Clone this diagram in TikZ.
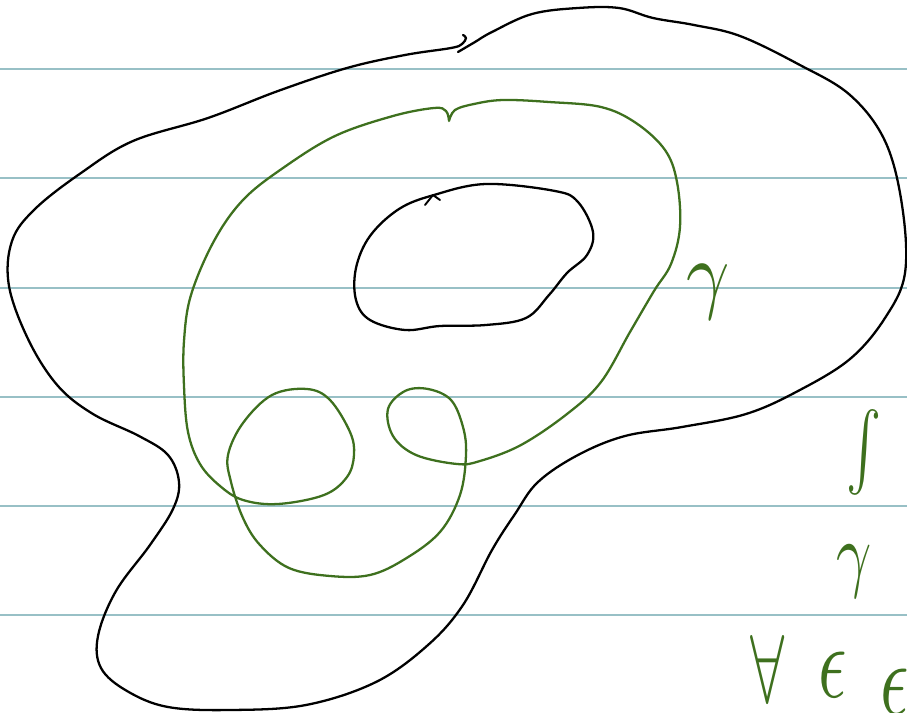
\documentclass[tikz,border=0pt]{standalone}
\usepackage{amsmath,amssymb}
\usepackage{graphicx}
\usepackage{tikz}
\definecolor{ruleblue}{RGB}{152,192,198}
\definecolor{inkgreen}{RGB}{62,112,30}

\begin{document}
\begin{tikzpicture}[x=0.02cm,y=-0.02cm,line cap=round,line join=round]
    \useasboundingbox (0,0) rectangle (907,713);
    \foreach \y in {69,178,288,397,506,615}
      \draw[ruleblue,line width=1.6pt] (0,\y) -- (907,\y);
    % outer region
    \draw[black,line width=1.3pt] plot[smooth,tension=0.6] coordinates {
      (458,52) (475,42) (492,32) (532,14) (578,8) (619,8) (653,18) (694,25)
      (740,36) (798,64) (850,95) (885,141) (902,205) (905,273) (885,318)
      (850,359) (798,391) (746,414) (682,427) (625,436) (578,455) (538,482)
      (515,514) (492,550) (463,605) (428,645) (376,682) (306,705) (231,710)
      (168,707) (127,691) (101,668) (98,636) (116,591) (150,545) (173,509)
      (179,482) (168,455) (139,436) (93,414) (58,386) (29,341) (9,286)
      (12,241) (35,209) (81,173) (133,141) (208,118) (278,91) (347,68)
      (405,55) (451,48) (462,44) (466,38) (463,35)};
    % hole
    \draw[black,line width=1.3pt] plot[smooth cycle,tension=0.6] coordinates {
      (434,195) (486,184) (555,191) (578,202) (593,232) (587,255) (567,273)
      (549,295) (526,318) (486,325) (440,326) (405,330) (370,320) (356,300)
      (356,268) (370,236) (399,209)};
    \draw[black,line width=1.1pt] (425,205) -- (433,195) -- (440,200);
    % the curve gamma
    \draw[inkgreen,line width=1.3pt] plot[smooth,tension=0.6] coordinates {
      (449,121) (455,110) (474,104) (503,100) (549,102) (601,107) (636,123)
      (665,150) (677,182) (680,227) (671,264) (654,291) (630,332) (601,382)
      (567,414) (521,445) (480,461) (457,464) (416,455) (393,436) (388,409)
      (405,391) (428,389) (451,400) (463,427) (466,455) (460,495) (440,532)
      (405,559) (370,575) (330,576) (289,568) (260,545) (243,518) (231,482)
      (228,455) (243,423) (272,395) (307,389) (330,400) (350,432) (354,455)
      (347,477) (324,495) (278,504) (243,500) (220,486) (200,464) (188,432)
      (184,386) (184,341) (191,295) (214,241) (243,200) (283,168) (335,136)
      (393,116) (434,108) (446,111) (449,121)};
    \node[inkgreen,inner sep=0pt] (gammalabel) at (708,292) {\scalebox{4.3}[5]{$\gamma$}};
    \node[inkgreen,inner sep=0pt] (intsign) at (864,452) {\scalebox{3}[4.4]{$\int$}};
    \node[inkgreen,inner sep=0pt] (gammaint) at (854,572) {\scalebox{3.5}[4.8]{$\gamma$}};
    \node[inkgreen,inner sep=0pt] (forall) at (768,669) {\scalebox{3.5}[5.5]{$\forall$}};
    \node[inkgreen,inner sep=0pt] (epsone) at (833,675) {\scalebox{4}[6]{$\epsilon$}};
    \node[inkgreen,inner sep=0pt,anchor=west] (epstwo) at (880,692) {\scalebox{4}[6]{$\epsilon$}};
  \end{tikzpicture}
\end{document}
